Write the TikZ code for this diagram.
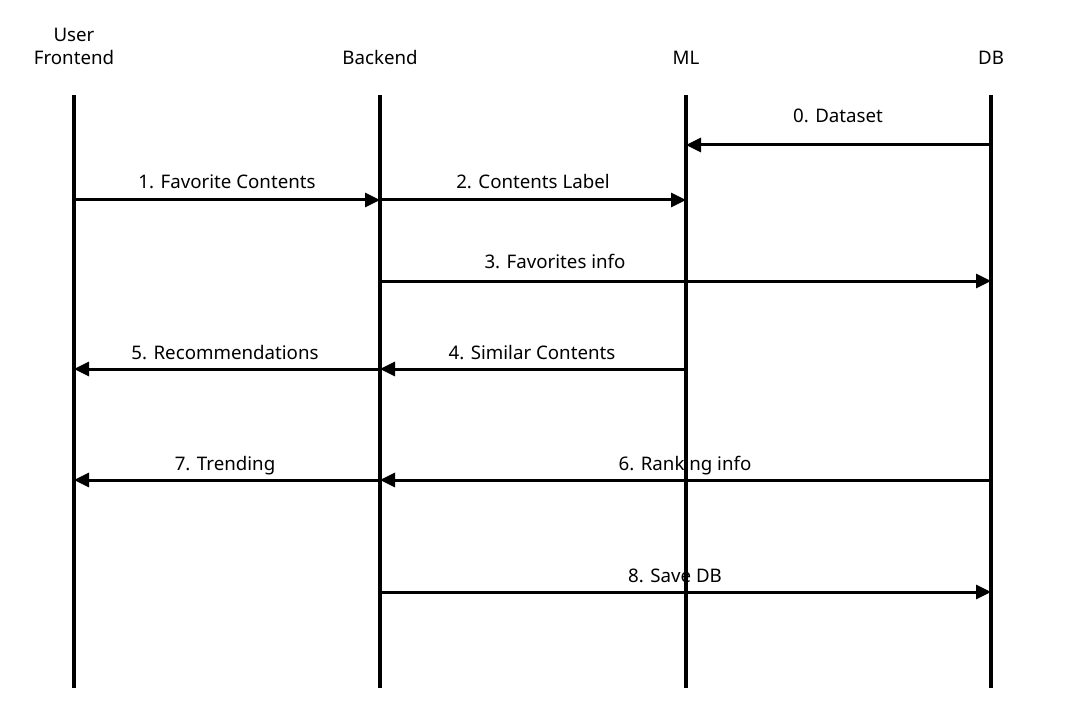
\documentclass[tikz,border=0pt]{standalone}
\usepackage{fontspec}
\setmainfont{Noto Sans}
\usetikzlibrary{arrows.meta}
\begin{document}
\begin{tikzpicture}[x=1pt,y=-1pt,
  lifeline/.style={line width=4pt},
  msg/.style={line width=3pt,-{Triangle[length=15pt,width=14pt]}},
  lbl/.style={anchor=base,inner sep=0pt,font=\fontsize{18.7}{22}\selectfont},
  head/.style={anchor=base,inner sep=0pt,font=\fontsize{18.7}{22}\selectfont}]
\useasboundingbox (0,0) rectangle (1079,714);
% headers
\node[head] (hUser) at (74,41.7) {User};
\node[head] (hFront) at (74,65) {Frontend};
\node[head] (hBack) at (380,65) {Backend};
\node[head] (hML) at (686,65) {ML};
\node[head] (hDB) at (991,65) {DB};
% lifeline ends
\coordinate (feT) at (74,95);  \coordinate (feB) at (74,688);
\coordinate (beT) at (380,95); \coordinate (beB) at (380,688);
\coordinate (mlT) at (686,95); \coordinate (mlB) at (686,688);
\coordinate (dbT) at (991,95); \coordinate (dbB) at (991,688);
% message anchor points
\coordinate (db0) at (991,145); \coordinate (ml0) at (686,145);
\coordinate (fe1) at (74,200);  \coordinate (be1) at (380,200); \coordinate (ml1) at (686,200);
\coordinate (be3) at (380,281); \coordinate (db3) at (991,281);
\coordinate (fe4) at (74,369);  \coordinate (be4) at (380,369); \coordinate (ml4) at (686,369);
\coordinate (fe6) at (74,480);  \coordinate (be6) at (380,480); \coordinate (db6) at (991,480);
\coordinate (be8) at (380,592); \coordinate (db8) at (991,592);
% messages
\draw[msg] (db0) -- (ml0);
\draw[msg] (fe1) -- (be1);
\draw[msg] (be1) -- (ml1);
\draw[msg] (be3) -- (db3);
\draw[msg] (ml4) -- (be4);
\draw[msg] (be4) -- (fe4);
\draw[msg] (db6) -- (be6);
\draw[msg] (be6) -- (fe6);
\draw[msg] (be8) -- (db8);
% labels
\node[lbl] (l0) at (838,123) {0. Dataset};
\node[lbl] (l1) at (227,189) {1. Favorite Contents};
\node[lbl] (l2) at (533,189) {2. Contents Label};
\node[lbl] (l3) at (555,269) {3. Favorites info};
\node[lbl] (l4) at (532,359) {4. Similar Contents};
\node[lbl] (l5) at (225,359) {5. Recommendations};
\node[lbl] (l6) at (685,470) {6. Ranking info};
\node[lbl] (l7) at (225,470) {7. Trending};
\node[lbl] (l8) at (675,582) {8. Save DB};
% lifelines (on top)
\draw[lifeline] (feT) -- (feB);
\draw[lifeline] (beT) -- (beB);
\draw[lifeline] (mlT) -- (mlB);
\draw[lifeline] (dbT) -- (dbB);
\end{tikzpicture}
\end{document}
